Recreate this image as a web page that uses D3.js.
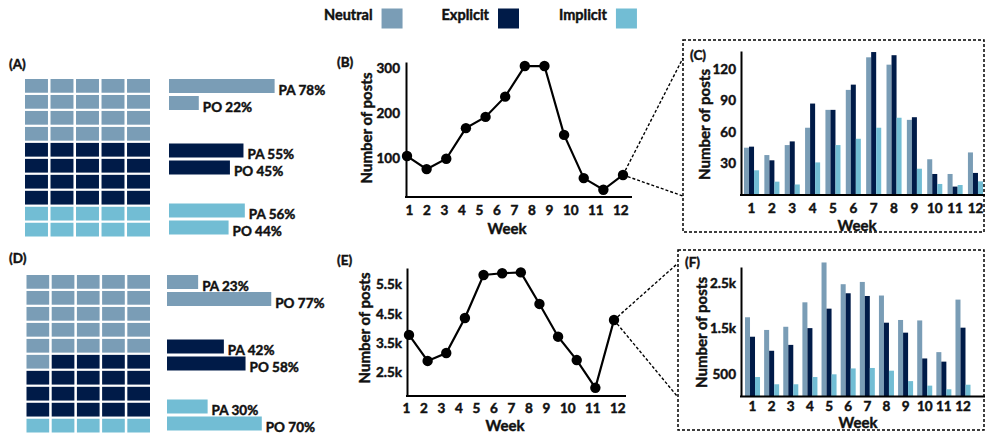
<!DOCTYPE html>
<html>
<head>
<meta charset="utf-8">
<script src="https://cdn.jsdelivr.net/npm/d3@7"></script>
<style>
  body { margin: 0; background: #fff; }
  svg { display: block; }
  svg text { stroke: #111; stroke-width: 0.45px; }
</style>
</head>
<body>
<svg id="chart" width="985" height="434"></svg>
<script>
// ---- data ----
const series = ["Neutral", "Explicit", "Implicit"];
const seriesColors = ["#7a9db6", "#001b48", "#72bdd4"];
const weeks = [1, 2, 3, 4, 5, 6, 7, 8, 9, 10, 11, 12];

// waffle cell counts (50 cells per panel) and PA / PO shares in %
const waffleCountsA = [20, 20, 10];
const paShareA = [78, 55, 56];
const poShareA = [22, 45, 44];
const waffleCountsD = [26, 19, 5];
const paShareD = [23, 42, 30];
const poShareD = [77, 58, 70];

// weekly totals
const postsB = [105, 76, 99, 167, 192, 237, 305, 305, 152, 56, 30, 63];
const postsE = [3780, 2890, 3160, 4360, 5830, 5890, 5920, 4840, 3720, 2920, 1970, 4290];

// weekly posts by type
const neutralC  = [45, 38, 47.5, 64, 81, 100, 131, 124, 71.5, 34, 20, 40.5];
const explicitC = [46, 33, 51, 87, 81, 105, 136, 133, 74, 20, 8, 21];
const implicitC = [23.5, 12.7, 10, 31, 47.5, 53.5, 64, 73.5, 25, 10.5, 9.5, 13];

const neutralF  = [1750, 1470, 1540, 2080, 2960, 2480, 2530, 2230, 1690, 1680, 980, 2140];
const explicitF = [1320, 1010, 1140, 1510, 1940, 2280, 2220, 1630, 1410, 840, 770, 1520];
const implicitF = [430, 270, 270, 430, 490, 620, 630, 570, 340, 240, 160, 260];

// axis ticks
const ticksB = [100, 200, 300];
const ticksC = [30, 60, 90, 120];
const ticksE = [2500, 3500, 4500, 5500];
const ticksF = [500, 1500, 2500];

// ---- drawing ----
const FONT = "Lato, 'Open Sans', 'DejaVu Sans', sans-serif";
const WEIGHT = 700;
const INK = "#111";
const svg = d3.select("#chart");
const color = d3.scaleOrdinal(series, seriesColors);
const kFormat = v => v >= 1000 ? d3.format(".1f")(v / 1000) + "k" : String(v);

function txt(g, x, y, s, size, anchor = "start") {
  return g.append("text").attr("x", x).attr("y", y).text(s)
    .attr("font-family", FONT).attr("font-weight", WEIGHT)
    .attr("font-size", size).attr("fill", INK).attr("text-anchor", anchor);
}

function styleAxis(g, size) {
  g.attr("font-family", FONT).attr("font-size", size).attr("font-weight", WEIGHT);
  g.selectAll(".tick text").attr("fill", INK);
  g.selectAll(".tick line").remove();
}

function yTitle(g, x, y, s) {
  txt(g, 0, 0, s, 15, "middle").attr("transform", `translate(${x},${y}) rotate(-90)`);
}

// legend
const legend = svg.append("g");
series.forEach((s, i) => {
  const gx = 324 + i * 117.5;
  const t = txt(legend, gx, 20, s, 14.5);
  const w = t.node().getComputedTextLength();
  legend.append("rect").attr("x", gx + w + 9).attr("y", 8.5)
    .attr("width", 21).attr("height", 20).attr("fill", color(s));
});

// waffle + PA/PO bars
function drawWaffle(cfg) {
  const g = svg.append("g");
  txt(g, cfg.labelX, cfg.labelY, cfg.label, 13.5);

  const cells = [];
  cfg.counts.forEach((n, k) => { for (let j = 0; j < n; j++) cells.push(series[k]); });
  const col = d3.scaleBand().domain(d3.range(5)).range([cfg.left, 150]).paddingInner(0.1);
  const row = d3.scaleBand().domain(d3.range(10)).range([cfg.top, cfg.top + 157.5]).paddingInner(0.14);
  g.selectAll("rect.cell").data(cells).join("rect").attr("class", "cell")
    .attr("x", (d, i) => col(i % 5)).attr("y", (d, i) => row(Math.floor(i / 5)))
    .attr("width", col.bandwidth()).attr("height", row.bandwidth())
    .attr("fill", d => color(d));

  const share = d3.scaleLinear().domain([0, 100]).range([0, 135.4]);
  const groupY = d3.scaleOrdinal(series, [0, 64.5, 124.5]);
  const bars = [];
  series.forEach((s, k) => {
    bars.push({ s, tag: "PA", v: cfg.pa[k], dy: 0 });
    bars.push({ s, tag: "PO", v: cfg.po[k], dy: 17 });
  });
  const bh = 14;
  const by = d => cfg.top + groupY(d.s) + d.dy;
  g.selectAll("rect.bar").data(bars).join("rect").attr("class", "bar")
    .attr("x", cfg.barLeft).attr("y", by)
    .attr("width", d => share(d.v)).attr("height", bh)
    .attr("fill", d => color(d.s));
  bars.forEach(d => {
    txt(g, cfg.barLeft + share(d.v) + 4, by(d) + bh + 1.5, `${d.tag} ${d.v}%`, 13.5);
  });
}

drawWaffle({ label: "(A)", labelX: 9, labelY: 69, counts: waffleCountsA, pa: paShareA, po: poShareA,
  left: 25, top: 79, barLeft: 169 });
drawWaffle({ label: "(D)", labelX: 9, labelY: 263, counts: waffleCountsD, pa: paShareD, po: poShareD,
  left: 26.5, top: 275, barLeft: 167 });

// x tick labels laid out like a spaced run of numbers
function weekLabelScale(start) {
  const digitW = 7.5, gap = 10;
  const centers = [];
  let x = start, prevHalf = 0;
  weeks.forEach((w, i) => {
    const half = String(w).length * digitW / 2;
    if (i > 0) x += prevHalf + gap + half;
    centers.push(x);
    prevHalf = half;
  });
  return d3.scaleOrdinal(weeks, centers);
}

function drawLine(cfg) {
  const g = svg.append("g");
  txt(g, 337, cfg.labelY, cfg.label, 13.5);
  const x = d3.scalePoint(weeks, cfg.xRange);
  const y = d3.scaleLinear().domain(cfg.yDomain).range([cfg.axisY, cfg.axisTop]);

  const ya = g.append("g").attr("transform", `translate(${cfg.axisX},0)`)
    .call(d3.axisLeft(y).tickValues(cfg.ticks).tickFormat(kFormat).tickSize(0).tickSizeOuter(0).tickPadding(cfg.yPad));
  styleAxis(ya, 13.5);
  ya.select(".domain").attr("stroke", "#000").attr("stroke-width", 2);

  g.append("line").attr("x1", cfg.axisX - 1).attr("x2", cfg.axisEnd)
    .attr("y1", cfg.axisY).attr("y2", cfg.axisY).attr("stroke", "#000").attr("stroke-width", 2);
  const xa = g.append("g").attr("transform", `translate(0,${cfg.axisY})`)
    .call(d3.axisBottom(weekLabelScale(cfg.labelStart)).tickSize(0).tickPadding(cfg.xPad));
  styleAxis(xa, 13.5);
  xa.select(".domain").remove();

  yTitle(g, cfg.titleX, cfg.titleY, "Number of posts");
  txt(g, cfg.weekX, cfg.weekY, "Week", 15, "middle");

  const pts = weeks.map((w, i) => ({ w, v: cfg.values[i] }));
  const last = pts[pts.length - 1];
  // dotted leaders toward the weekly breakdown panel
  cfg.leaders.forEach(([tx, ty]) => {
    g.append("line").attr("x1", x(last.w)).attr("y1", y(last.v)).attr("x2", tx).attr("y2", ty)
      .attr("stroke", "#000").attr("stroke-width", 1.4).attr("stroke-dasharray", "3,2");
  });
  g.append("path").datum(pts)
    .attr("d", d3.line().x(d => x(d.w)).y(d => y(d.v)))
    .attr("fill", "none").attr("stroke", "#000").attr("stroke-width", 2.2);
  g.selectAll("circle").data(pts).join("circle")
    .attr("cx", d => x(d.w)).attr("cy", d => y(d.v)).attr("r", 5.2).attr("fill", "#000");
}

drawLine({ label: "(B)", labelY: 67, values: postsB, ticks: ticksB,
  xRange: [407, 623], yDomain: [14, 314], axisX: 406, axisY: 197, axisTop: 62, axisEnd: 632,
  yPad: 6, xPad: 8, labelStart: 409, titleX: 372, titleY: 128, weekX: 507, weekY: 234,
  leaders: [[683, 58], [683, 196]] });
drawLine({ label: "(E)", labelY: 265, values: postsE, ticks: ticksE,
  xRange: [409, 614], yDomain: [1690, 6070], axisX: 407, axisY: 396, axisTop: 268, axisEnd: 626,
  yPad: 5, xPad: 7, labelStart: 406, titleX: 370, titleY: 328, weekX: 505, weekY: 431,
  leaders: [[677, 264], [677, 396]] });

function drawBars(cfg) {
  const g = svg.append("g");
  g.append("rect").attr("x", cfg.box[0]).attr("y", cfg.box[1])
    .attr("width", cfg.box[2] - cfg.box[0]).attr("height", cfg.box[3] - cfg.box[1])
    .attr("fill", "none").attr("stroke", "#000").attr("stroke-width", 1.5).attr("stroke-dasharray", "3,2");
  txt(g, cfg.labelX, cfg.labelY, cfg.label, 13.5);

  const x = d3.scaleBand(weeks, cfg.xRange).paddingInner(cfg.pad).paddingOuter(0);
  const xi = d3.scaleBand(series, [0, x.bandwidth()]);
  const y = d3.scaleLinear().domain(cfg.yDomain).range([cfg.axisY, cfg.axisTop]);

  const rows = [];
  weeks.forEach((w, i) => series.forEach((s, k) => rows.push({ w, s, v: cfg.values[k][i] })));
  g.selectAll("rect.bar").data(rows).join("rect").attr("class", "bar")
    .attr("x", d => x(d.w) + xi(d.s)).attr("width", xi.bandwidth())
    .attr("y", d => y(d.v)).attr("height", d => y(0) - y(d.v))
    .attr("fill", d => color(d.s));

  const ya = g.append("g").attr("transform", `translate(${cfg.axisX},0)`)
    .call(d3.axisLeft(y).tickValues(cfg.ticks).tickFormat(kFormat).tickSize(0).tickSizeOuter(0).tickPadding(5));
  styleAxis(ya, 13.5);
  ya.select(".domain").attr("stroke", "#000").attr("stroke-width", 2);

  g.append("line").attr("x1", cfg.axisX - 1).attr("x2", 985)
    .attr("y1", cfg.axisY).attr("y2", cfg.axisY).attr("stroke", "#000").attr("stroke-width", 2);
  const xa = g.append("g").attr("transform", `translate(0,${cfg.axisY})`)
    .call(d3.axisBottom(x).tickSize(0).tickPadding(cfg.xPad));
  styleAxis(xa, 13.5);
  xa.select(".domain").remove();

  yTitle(g, cfg.titleX, cfg.titleY, "Number of posts");
  txt(g, cfg.weekX, cfg.weekY, "Week", 15, "middle");
}

drawBars({ label: "(C)", labelX: 690, labelY: 60, values: [neutralC, explicitC, implicitC], ticks: ticksC,
  box: [683, 40, 984, 232], xRange: [744, 983], pad: 0.26, yDomain: [0, 137],
  axisX: 741, axisY: 195, axisTop: 51, xPad: 8.5, titleX: 710, titleY: 124.5, weekX: 857, weekY: 230.5 });
drawBars({ label: "(F)", labelX: 685, labelY: 267, values: [neutralF, explicitF, implicitF], ticks: ticksF,
  box: [678, 250, 984, 430], xRange: [745, 970.5], pad: 0.215, yDomain: [0, 2860],
  axisX: 741, axisY: 396.5, axisTop: 267, xPad: 4.5, titleX: 707, titleY: 332.5, weekX: 858, weekY: 427.5 });
</script>
</body>
</html>
